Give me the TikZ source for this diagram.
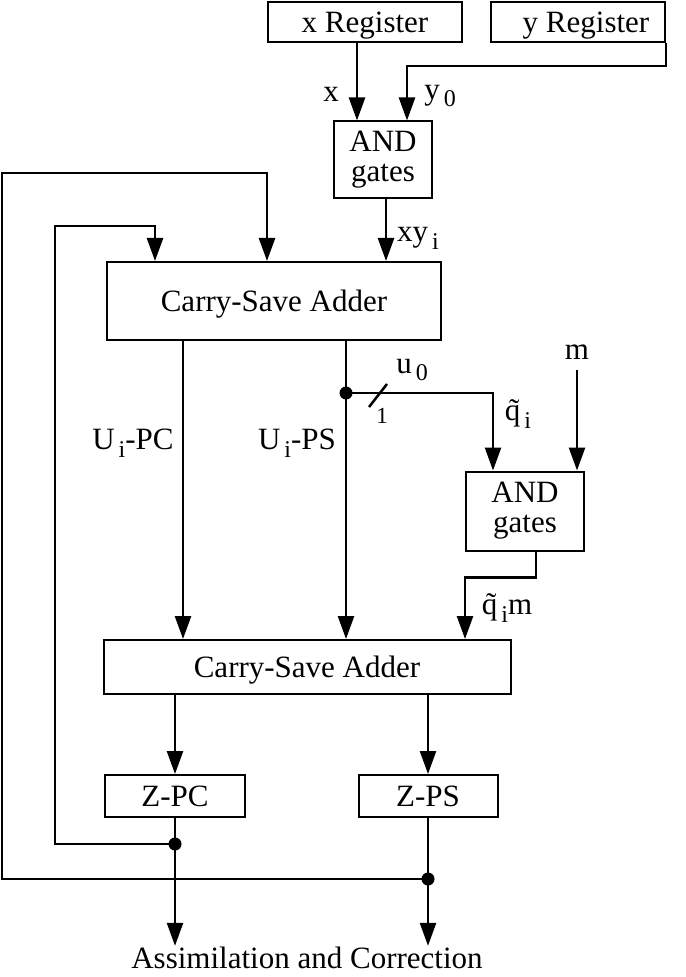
\documentclass[tikz,border=0pt]{standalone}
\usepackage{fontspec}
\setmainfont{Liberation Serif}
\usetikzlibrary{positioning, arrows.meta}
\newcommand{\idx}[1]{\raisebox{-0.55ex}{\fontsize{12}{12}\selectfont\,#1}}

\begin{document}
\begin{tikzpicture}[x=0.5pt, y=-0.5pt, line width=1.25pt,
    font=\fontsize{15.5}{15}\selectfont,
    blk/.style={draw, line width=1pt, inner sep=0pt, align=center},
    oneline/.style={blk, text depth=0pt},
    arr/.style={-{Triangle[length=11.5pt, width=8pt]}},
    lbl/.style={inner sep=0pt},
    joint/.style={circle, fill, inner sep=0pt, minimum size=6.5pt}]
    \useasboundingbox (0,0) rectangle (685,977);
    % registers and first AND
    \node[oneline, minimum width=97pt, minimum height=20pt] (xreg) at (365,22) {x Register};
    \node[oneline, minimum width=87pt, minimum height=20pt] (yreg) at (578,22) {\hspace*{8pt}y Register};
    \node[blk, minimum width=49pt, minimum height=38.5pt] (andA) at (383,160) {AND\\gates};
    \node[oneline, minimum width=167pt, minimum height=39pt] (csaA) at (274,301) {Carry-Save Adder};
    \node[blk, minimum width=59pt, minimum height=39.5pt] (andB) at (525,511) {AND\\gates};
    \node[oneline, minimum width=203.5pt, minimum height=27pt] (csaB) at (307,667) {Carry-Save Adder};
    \node[oneline, minimum width=70pt, minimum height=21pt] (zpc) at (175,796) {Z-PC};
    \node[oneline, minimum width=69.5pt, minimum height=21pt] (zps) at (428,796) {Z-PS};
    \node[lbl] (out) at (307,958) {Assimilation and Correction};

    \draw[arr] ([xshift=-4pt]xreg.south) -- ([xshift=-4pt]xreg.south |- andA.north);
    \draw[arr] (yreg.south east) -- ++(0,23) -| ([xshift=12pt]andA.north);
    \draw[arr] ([xshift=1.5pt]andA.south) -- ([xshift=1.5pt]andA.south |- csaA.north);

    % partial sums down to second adder
    \draw[arr] ([xshift=-45.5pt]csaA.south) -- ([xshift=-45.5pt]csaA.south |- csaB.north);
    \coordinate (dotU) at ([xshift=36pt, yshift=-26pt]csaA.south);
    \draw[arr] ([xshift=36pt]csaA.south) -- ([xshift=36pt]csaA.south |- csaB.north);
    \draw[arr] (dotU) -| ([xshift=-16pt]andB.north);
    \draw ([shift={(23,14)}]dotU) -- ++(18,-23);
    \node[joint] at (dotU) {};
    \coordinate (msrc) at (577,370);
    \draw[arr] (msrc) -- (msrc |- andB.north);
    \draw[arr] ([xshift=5.5pt]andB.south) -- ++(0,26) -| ([xshift=79pt]csaB.north);

    % outputs and feedback
    \draw[arr] (csaB.south -| zpc.north) -- (zpc.north);
    \draw[arr] (csaB.south -| zps.north) -- (zps.north);
    \coordinate (dotA) at ([yshift=-13pt]zpc.south);
    \coordinate (dotB) at ([yshift=-30.5pt]zps.south);
    \draw[arr] (zpc.south) -- (zpc.south |- out.north);
    \draw[arr] (zps.south) -- (zps.south |- out.north);
    \draw[arr] (dotA) -| (55,226) -| ([xshift=-59.5pt]csaA.north);
    \draw[arr] (dotB) -| (2,173) -| ([xshift=-3.5pt]csaA.north);
    \node[joint] at (dotA) {};
    \node[joint] at (dotB) {};

    % labels
    \node[lbl] at (331,94) {x};
    \node[lbl] at (440,96) {y\idx{0}};
    \node[lbl] at (418,238) {xy\idx{i}};
    \node[lbl] at (133,443) {U\idx{i}-PC};
    \node[lbl] at (297,443) {U\idx{i}-PS};
    \node[lbl] at (412,370) {u\idx{0}};
    \node[lbl, font=\fontsize{11.5}{11}\selectfont] at (382,416) {1};
    \node[lbl] at (518,414) {\~{q}\idx{i}};
    \node[lbl] at (577,352) {m};
    \node[lbl] at (507,608) {\~{q}\idx{i}m};
\end{tikzpicture}
\end{document}
